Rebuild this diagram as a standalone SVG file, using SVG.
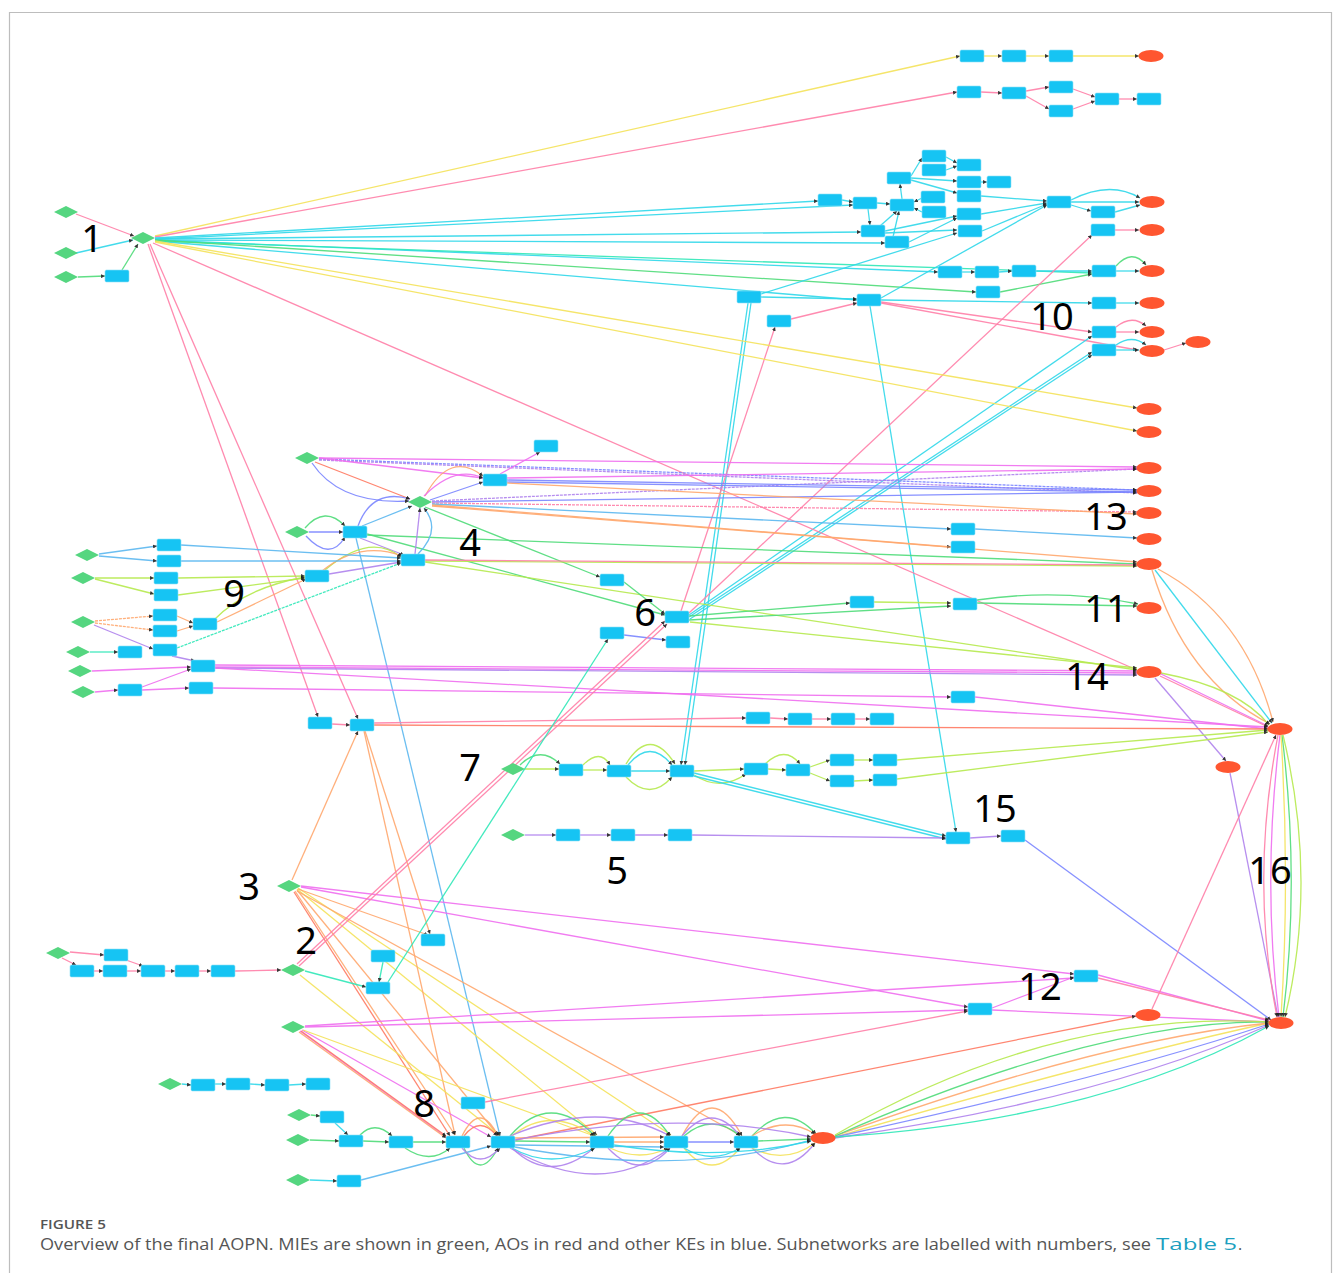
<svg xmlns="http://www.w3.org/2000/svg" width="1335" height="1273" viewBox="0 0 1335 1273">
<style>
.e{fill:none;stroke-width:1.3;marker-end:url(#a);opacity:.9}
.pk{stroke:#ff7fa8}.ye{stroke:#f5e35a}.cy{stroke:#2fd8ea}.gr{stroke:#4fdc79}.lg{stroke:#b6ea4e}
.or{stroke:#ffa86e}.pu{stroke:#b083ee}.bl{stroke:#7b86ff}.mg{stroke:#f06ef0}.lb{stroke:#5cb8f0}
.tl{stroke:#2fe8b8}.rd{stroke:#ff7a62}
.b{fill:#16c4f3;stroke:#8fe0f7;stroke-width:.6}
.r{fill:#ff5630}
.g{fill:#55d680}
.num{font-family:"Noto Sans","Liberation Sans",sans-serif;font-size:38px;fill:#000;text-anchor:middle}
.cap{font-family:"Open Sans","Liberation Sans",sans-serif;fill:#555}
</style>
<defs>
<marker id="a" viewBox="0 0 6 6" refX="6" refY="3" markerWidth="4" markerHeight="4" orient="auto" markerUnits="userSpaceOnUse"><path d="M0,0L6,3L0,6z" fill="#222"/></marker>
<rect id="kb" x="-12" y="-6" width="24" height="12" rx="1.5"/>
<ellipse id="kr" rx="12.5" ry="6"/>
<polygon id="kg" points="-12,0 0,-6 12,0 0,6"/>
</defs>
<rect width="1335" height="1273" fill="#fff"/>
<path d="M9.5 1273V12.5H1331.5V1273" fill="none" stroke="#bdbdbd" stroke-width="1.2"/>

<g id="connectors">
<path class="e ye" d="M155 236L960 56"/>
<path class="e pk" d="M155 237L957 92"/>
<path class="e pk" d="M76 214L134 236"/>
<path class="e cy" d="M76 253L133 240"/>
<path class="e gr" d="M78 277L105 276"/>
<path class="e gr" d="M122 270L138 244"/>
<path class="e ye" d="M984 56L1002 56"/><path class="e ye" d="M1026 56L1049 56"/><path class="e ye" d="M1073 56L1139 56"/>
<path class="e pk" d="M981 92L1002 93"/><path class="e pk" d="M1026 91L1049 87"/><path class="e pk" d="M1026 96L1049 109"/>
<path class="e pk" d="M1073 89L1095 97"/><path class="e pk" d="M1073 109L1095 101"/><path class="e pk" d="M1119 99L1137 99"/>
<path class="e cy" d="M155 238L818 201"/>
<path class="e cy" d="M155 239L853 205"/>
<path class="e cy" d="M155 239L861 232"/>
<path class="e cy" d="M155 240L885 243"/>
<path class="e cy" d="M155 240L938 272"/>
<path class="e cy" d="M155 241L857 300"/>
<path class="e tl" d="M155 241L1092 273"/>
<path class="e gr" d="M155 240L976 292"/>
<path class="e gr" d="M1000 292L1092 274"/>
<path class="e cy" d="M842 200L853 202"/><path class="e cy" d="M877 203L890 204"/><path class="e cy" d="M868 209L870 225"/>
<path class="e cy" d="M880 226L897 211"/><path class="e cy" d="M893 237L899 211"/><path class="e cy" d="M902 199L900 184"/>
<path class="e cy" d="M911 176L922 158"/><path class="e cy" d="M911 178L957 181"/><path class="e cy" d="M911 180L957 193"/>
<path class="e cy" d="M946 157L957 163"/><path class="e cy" d="M946 170L957 166"/><path class="e cy" d="M981 182L987 182"/>
<path class="e cy" d="M922 212L914 208"/><path class="e cy" d="M922 198L914 202"/>
<path class="e cy" d="M885 231L957 216"/><path class="e cy" d="M909 242L957 218"/><path class="e cy" d="M885 233L957 230"/>
<path class="e cy" d="M981 196L1047 201"/><path class="e cy" d="M981 214L1047 203"/><path class="e cy" d="M982 231L1047 204"/>
<path class="e cy" d="M881 298L1047 205"/><path class="e cy" d="M761 294L957 233"/>
<path class="e cy" d="M1071 200Q1110 180 1140 198"/><path class="e cy" d="M1071 202L1139 202"/>
<path class="e cy" d="M1071 205L1091 211"/><path class="e cy" d="M1115 212L1140 205"/>
<path class="e pk" d="M1115 230L1139 230"/>
<path class="e cy" d="M962 272L975 272"/><path class="e cy" d="M999 272L1012 271"/><path class="e cy" d="M1036 271L1092 271"/>
<path class="e cy" d="M1116 271L1139 271"/><path class="e gr" d="M1116 266Q1132 248 1146 265"/>
<path class="e cy" d="M881 300L1092 303"/><path class="e cy" d="M1116 303L1139 303"/>
<path class="e pk" d="M791 319L857 303"/><path class="e cy" d="M761 297L857 299"/>
<path class="e pk" d="M881 302L1092 332"/><path class="e pk" d="M881 303L1137 350"/>
<path class="e pk" d="M1116 332L1139 332"/><path class="e pk" d="M1116 327Q1132 314 1146 326"/>
<path class="e cy" d="M1116 350L1139 350"/><path class="e cy" d="M1116 345Q1132 334 1146 345"/>
<path class="e pk" d="M1164 350L1186 343"/>
<path class="e cy" d="M748 303L681 765"/><path class="e cy" d="M751 303L685 765"/>
<path class="e cy" d="M870 306L956 832"/>
<path class="e pk" d="M689 613L1092 235"/>
<path class="e pk" d="M681 611L775 327"/>
<path class="e cy" d="M689 615L1092 336"/><path class="e cy" d="M689 617L1092 352"/><path class="e cy" d="M690 619L1092 355"/>
<path class="e ye" d="M155 241L1137 408"/><path class="e ye" d="M155 242L1137 431"/>
<path class="e pk" d="M153 243L1137 670"/>
<path class="e pk" d="M148 244L318 717"/><path class="e pk" d="M150 244L358 719"/>
<path class="e mg" d="M319 458L1137 467"/>
<path class="e bl" d="M319 459L1137 490" stroke-dasharray="3 1"/>
<path class="e pu" d="M319 460L1137 493" stroke-dasharray="3 1"/>
<path class="e mg" d="M319 458L483 478"/>
<path class="e rd" d="M315 462L410 499"/>
<path class="e bl" d="M312 463Q340 505 409 501"/>
<path class="e bl" d="M430 500L483 482"/>
<path class="e or" d="M425 496Q450 450 483 476"/>
<path class="e mg" d="M424 496Q455 465 483 478"/>
<path class="e bl" d="M432 502L1137 492"/>
<path class="e pk" d="M432 503L1137 512" stroke-dasharray="3 1"/>
<path class="e pu" d="M432 501L1137 469" stroke-dasharray="3 1"/>
<path class="e lb" d="M432 504L951 529"/>
<path class="e or" d="M432 505L951 547"/>
<path class="e lb" d="M975 529L1137 538"/>
<path class="e or" d="M432 506L1137 562"/>
<path class="e gr" d="M425 507L600 577"/>
<path class="e bl" d="M507 480L1137 490"/><path class="e bl" d="M507 482L1137 492"/><path class="e mg" d="M507 478L1137 469"/>
<path class="e or" d="M507 483L1137 514"/><path class="e mg" d="M500 474L540 452"/>
<path class="e bl" d="M309 532L343 532"/>
<path class="e gr" d="M305 528Q325 505 345 526"/>
<path class="e bl" d="M306 536Q330 562 345 537"/>
<path class="e lb" d="M362 526L412 506"/>
<path class="e bl" d="M358 526Q372 488 410 499"/>
<path class="e gr" d="M367 535L1137 564"/>
<path class="e gr" d="M367 534L665 615"/>
<path class="e pu" d="M360 538L404 555"/>
<path class="e lb" d="M356 538L500 1136"/>
<path class="e pu" d="M415 554L420 508"/>
<path class="e lb" d="M418 554Q442 530 424 508"/>
<path class="e lg" d="M425 561L1137 566"/>
<path class="e lg" d="M425 562L1137 670"/>
<path class="e pk" d="M425 560L1137 565"/>
<path class="e pu" d="M329 574L401 562"/>
<path class="e lg" d="M325 570Q370 532 401 557"/>
<path class="e or" d="M322 571Q360 540 402 556"/>
<path class="e lb" d="M99 554L157 546"/><path class="e lb" d="M99 556L157 561"/>
<path class="e lb" d="M181 545L401 558"/><path class="e lb" d="M181 561L401 561"/>
<path class="e lg" d="M95 578L154 578"/><path class="e lg" d="M95 579L154 594"/>
<path class="e lg" d="M178 578L305 576"/><path class="e lg" d="M178 595L305 578"/>
<path class="e or" d="M95 621L153 616" stroke-dasharray="3 1"/><path class="e or" d="M95 623L153 630" stroke-dasharray="3 1"/>
<path class="e or" d="M177 616L193 623"/><path class="e or" d="M177 631L193 626"/>
<path class="e or" d="M217 622L306 579"/><path class="e lg" d="M215 619Q245 588 305 577"/>
<path class="e pu" d="M94 625L153 649"/>
<path class="e tl" d="M177 648L401 563" stroke-dasharray="3 1"/>
<path class="e pu" d="M172 656L195 661"/>
<path class="e tl" d="M90 652L118 652"/>
<path class="e mg" d="M92 671L191 667"/>
<path class="e mg" d="M95 692L118 690"/><path class="e mg" d="M142 687L191 669"/><path class="e mg" d="M142 690L189 688"/>
<path class="e mg" d="M215 665L1137 671"/><path class="e mg" d="M215 667L1137 673"/><path class="e pu" d="M215 668L1137 675"/>
<path class="e mg" d="M215 668L1268 727"/>
<path class="e mg" d="M213 688L951 697"/><path class="e mg" d="M975 697L1268 729"/>
<path class="e gr" d="M624 582L665 614"/>
<path class="e gr" d="M689 616L850 603"/>
<path class="e lg" d="M874 602L951 603"/>
<path class="e gr" d="M689 620L951 606"/>
<path class="e gr" d="M977 603L1137 606"/><path class="e gr" d="M977 600Q1060 588 1138 604"/>
<path class="e bl" d="M624 635L666 640"/>
<path class="e lg" d="M690 622L1137 668"/>
<path class="e cy" d="M1155 570L1272 723"/>
<path class="e or" d="M1158 569Q1245 615 1273 722"/>
<path class="e or" d="M1152 570Q1185 680 1270 724"/>
<path class="e lg" d="M1161 673Q1240 688 1269 725"/>
<path class="e mg" d="M1161 674L1268 726"/>
<path class="e pk" d="M1160 676L1268 727"/>
<path class="e pu" d="M1155 678L1226 761"/>
<path class="e pu" d="M1230 773L1278 1017"/>
<path class="e pk" d="M1278 735Q1250 880 1277 1017"/>
<path class="e mg" d="M1280 735Q1262 880 1279 1017"/>
<path class="e gr" d="M1282 735Q1300 880 1283 1017"/>
<path class="e lg" d="M1283 735Q1318 880 1285 1017"/>
<path class="e ye" d="M1281 735Q1290 880 1281 1017"/>
<path class="e pk" d="M332 724L350 725"/>
<path class="e rd" d="M374 725L1268 729"/>
<path class="e pk" d="M374 723L746 718"/>
<path class="e pk" d="M770 718L788 719"/><path class="e pk" d="M812 719L831 719"/><path class="e pk" d="M855 719L870 719"/>
<path class="e lg" d="M525 769L559 769"/>
<path class="e gr" d="M520 765Q540 745 560 764"/>
<path class="e lg" d="M583 770L607 770"/>
<path class="e lg" d="M583 765Q600 748 610 765"/>
<path class="e cy" d="M631 771L670 771"/>
<path class="e cy" d="M628 765Q650 738 672 765"/>
<path class="e lg" d="M626 764Q650 725 675 764"/>
<path class="e lg" d="M626 777Q650 802 672 777"/>
<path class="e lg" d="M694 771L744 769"/>
<path class="e lg" d="M694 775Q720 792 746 774"/>
<path class="e lg" d="M768 769L786 770"/>
<path class="e lg" d="M765 764Q785 745 800 764"/>
<path class="e lg" d="M810 767L830 760"/><path class="e lg" d="M810 773L830 781"/>
<path class="e lg" d="M854 760L873 760"/><path class="e lg" d="M854 781L873 780"/>
<path class="e lg" d="M897 760L1268 730"/><path class="e lg" d="M897 779L1268 732"/>
<path class="e cy" d="M694 773L946 836"/><path class="e cy" d="M694 776L946 839"/>
<path class="e pu" d="M525 835L556 835"/><path class="e pu" d="M580 835L611 835"/><path class="e pu" d="M635 835L668 835"/>
<path class="e pu" d="M692 835L946 838"/><path class="e pu" d="M970 838L1001 836"/>
<path class="e bl" d="M1025 840L1271 1020"/>
<path class="e or" d="M292 880L358 731"/>
<path class="e or" d="M295 891L455 1135"/>
<path class="e or" d="M297 890L498 1135"/>
<path class="e rd" d="M294 892L450 1136"/>
<path class="e ye" d="M297 889L597 1135"/>
<path class="e ye" d="M298 888L671 1135"/>
<path class="e mg" d="M301 886L1074 974"/>
<path class="e mg" d="M301 887L968 1007"/>
<path class="e or" d="M298 889L428 935"/>
<path class="e or" d="M297 891L740 1135"/>
<path class="e or" d="M364 731L455 1135"/>
<path class="e or" d="M365 731L430 934"/>
<path class="e pk" d="M70 952L104 955"/><path class="e pk" d="M62 958L76 965"/>
<path class="e pk" d="M94 971L103 971"/><path class="e pk" d="M127 971L141 971"/><path class="e pk" d="M126 960L143 966"/>
<path class="e pk" d="M165 971L175 971"/><path class="e pk" d="M199 971L211 971"/><path class="e pk" d="M235 971L281 970"/>
<path class="e pk" d="M297 964L665 621"/><path class="e pk" d="M299 966L667 624"/>
<path class="e tl" d="M305 971L366 987"/>
<path class="e ye" d="M300 975L500 1136"/>
<path class="e tl" d="M383 962L379 982"/>
<path class="e tl" d="M388 982L608 639"/>
<path class="e mg" d="M305 1027L968 1010"/>
<path class="e mg" d="M305 1026L1074 978"/>
<path class="e mg" d="M300 1031L446 1137"/>
<path class="e rd" d="M301 1031L446 1136"/>
<path class="e mg" d="M302 1030L491 1137"/>
<path class="e ye" d="M303 1030L597 1137"/>
<path class="e or" d="M299 1032L446 1138"/>
<path class="e mg" d="M992 1008L1074 977"/>
<path class="e mg" d="M992 1010L1269 1022"/>
<path class="e mg" d="M1098 975L1269 1021"/>
<path class="e pk" d="M1098 978L1269 1020"/>
<path class="e pk" d="M485 1102L968 1011"/>
<path class="e rd" d="M515 1140L1136 1016"/>
<path class="e pk" d="M1152 1009L1276 735"/>
<path class="e ye" d="M835 1137Q1100 1060 1269 1023"/>
<path class="e or" d="M835 1136Q1100 1040 1269 1023"/>
<path class="e bl" d="M835 1137Q1100 1080 1269 1024"/>
<path class="e pu" d="M835 1138Q1100 1100 1269 1025"/>
<path class="e gr" d="M835 1136Q1100 1020 1269 1022"/>
<path class="e tl" d="M835 1137Q1100 1120 1269 1026"/>
<path class="e lg" d="M835 1135Q1050 1010 1269 1022"/>
<path class="e cy" d="M182 1084L191 1085"/><path class="e cy" d="M215 1084L226 1084"/>
<path class="e cy" d="M250 1084L265 1085"/><path class="e cy" d="M289 1085L306 1084"/>
<path class="e gr" d="M311 1115L320 1116"/><path class="e cy" d="M335 1123L348 1135"/>
<path class="e gr" d="M310 1140L339 1141"/><path class="e gr" d="M363 1141L389 1142"/>
<path class="e gr" d="M360 1135Q375 1120 392 1136"/>
<path class="e gr" d="M413 1142L446 1142"/>
<path class="e gr" d="M405 1148Q430 1165 450 1148"/>
<path class="e cy" d="M310 1180L337 1181"/>
<path class="e lb" d="M361 1180L491 1146"/>
<path class="e or" d="M462 1136Q480 1100 498 1136"/>
<path class="e rd" d="M464 1136Q480 1115 497 1136"/>
<path class="e gr" d="M464 1148Q480 1182 498 1148"/>
<path class="e pu" d="M462 1148Q480 1170 500 1148"/>
<path class="e gr" d="M515 1141L590 1142"/>
<path class="e gr" d="M510 1136Q550 1090 595 1136"/>
<path class="e ye" d="M512 1136Q550 1105 594 1136"/>
<path class="e pu" d="M512 1148Q550 1185 594 1148"/>
<path class="e cy" d="M512 1148Q550 1170 595 1148"/>
<path class="e or" d="M515 1138L664 1137"/>
<path class="e lb" d="M515 1145L664 1147"/>
<path class="e pu" d="M510 1136Q600 1098 670 1136"/>
<path class="e pu" d="M510 1148Q600 1200 670 1148"/>
<path class="e or" d="M614 1142L664 1142"/>
<path class="e gr" d="M608 1136Q640 1090 670 1136"/>
<path class="e pu" d="M608 1148Q640 1182 670 1148"/>
<path class="e ye" d="M610 1148Q640 1162 668 1148"/>
<path class="e bl" d="M688 1142L734 1142"/>
<path class="e or" d="M682 1136Q712 1080 742 1136"/>
<path class="e pu" d="M682 1136Q712 1100 740 1136"/>
<path class="e gr" d="M684 1136Q712 1112 740 1136"/>
<path class="e ye" d="M684 1148Q712 1182 740 1148"/>
<path class="e cy" d="M684 1148Q712 1165 740 1148"/>
<path class="e gr" d="M758 1141L811 1139"/>
<path class="e gr" d="M752 1136Q785 1100 816 1134"/>
<path class="e or" d="M752 1136Q785 1115 815 1134"/>
<path class="e pu" d="M752 1148Q785 1182 815 1143"/>
<path class="e ye" d="M752 1148Q785 1165 815 1143"/>
<path class="e pu" d="M515 1140Q680 1108 811 1137"/>
<path class="e lb" d="M515 1147Q680 1178 811 1140"/>
<path class="e cy" d="M614 1145Q720 1162 811 1141"/>
</g>

<g id="nodes">
<g id="g1" class="g"><use href="#kg" x="66" y="212"/></g>
<g id="g2" class="g"><use href="#kg" x="66" y="253"/></g>
<g id="g3" class="g"><use href="#kg" x="66" y="277"/></g>
<g id="g4" class="g"><use href="#kg" x="143" y="238"/></g>
<g id="g5" class="g"><use href="#kg" x="307" y="458"/></g>
<g id="g6" class="g"><use href="#kg" x="420" y="502"/></g>
<g id="g7" class="g"><use href="#kg" x="297" y="532"/></g>
<g id="g8" class="g"><use href="#kg" x="87" y="555"/></g>
<g id="g9" class="g"><use href="#kg" x="83" y="578"/></g>
<g id="g10" class="g"><use href="#kg" x="83" y="622"/></g>
<g id="g11" class="g"><use href="#kg" x="78" y="652"/></g>
<g id="g12" class="g"><use href="#kg" x="80" y="671"/></g>
<g id="g13" class="g"><use href="#kg" x="83" y="692"/></g>
<g id="g14" class="g"><use href="#kg" x="513" y="769"/></g>
<g id="g15" class="g"><use href="#kg" x="513" y="835"/></g>
<g id="g16" class="g"><use href="#kg" x="289" y="886"/></g>
<g id="g17" class="g"><use href="#kg" x="58" y="953"/></g>
<g id="g18" class="g"><use href="#kg" x="293" y="970"/></g>
<g id="g19" class="g"><use href="#kg" x="293" y="1027"/></g>
<g id="g20" class="g"><use href="#kg" x="170" y="1084"/></g>
<g id="g21" class="g"><use href="#kg" x="299" y="1115"/></g>
<g id="g22" class="g"><use href="#kg" x="298" y="1140"/></g>
<g id="g23" class="g"><use href="#kg" x="298" y="1180"/></g>

<g id="b1" class="b"><use href="#kb" x="117" y="276"/></g>
<g id="b2" class="b"><use href="#kb" x="972" y="56"/></g>
<g id="b3" class="b"><use href="#kb" x="1014" y="56"/></g>
<g id="b4" class="b"><use href="#kb" x="1061" y="56"/></g>
<g id="b5" class="b"><use href="#kb" x="969" y="92"/></g>
<g id="b6" class="b"><use href="#kb" x="1014" y="93"/></g>
<g id="b7" class="b"><use href="#kb" x="1061" y="87"/></g>
<g id="b8" class="b"><use href="#kb" x="1061" y="111"/></g>
<g id="b9" class="b"><use href="#kb" x="1107" y="99"/></g>
<g id="b10" class="b"><use href="#kb" x="1149" y="99"/></g>
<g id="b11" class="b"><use href="#kb" x="830" y="200"/></g>
<g id="b12" class="b"><use href="#kb" x="865" y="203"/></g>
<g id="b13" class="b"><use href="#kb" x="902" y="205"/></g>
<g id="b14" class="b"><use href="#kb" x="899" y="178"/></g>
<g id="b15" class="b"><use href="#kb" x="934" y="156"/></g>
<g id="b16" class="b"><use href="#kb" x="934" y="170"/></g>
<g id="b17" class="b"><use href="#kb" x="969" y="165"/></g>
<g id="b18" class="b"><use href="#kb" x="969" y="182"/></g>
<g id="b19" class="b"><use href="#kb" x="999" y="182"/></g>
<g id="b20" class="b"><use href="#kb" x="933" y="197"/></g>
<g id="b21" class="b"><use href="#kb" x="934" y="212"/></g>
<g id="b22" class="b"><use href="#kb" x="969" y="196"/></g>
<g id="b23" class="b"><use href="#kb" x="969" y="214"/></g>
<g id="b24" class="b"><use href="#kb" x="873" y="231"/></g>
<g id="b25" class="b"><use href="#kb" x="897" y="242"/></g>
<g id="b26" class="b"><use href="#kb" x="970" y="231"/></g>
<g id="b27" class="b"><use href="#kb" x="1059" y="202"/></g>
<g id="b28" class="b"><use href="#kb" x="1103" y="212"/></g>
<g id="b29" class="b"><use href="#kb" x="1103" y="230"/></g>
<g id="b30" class="b"><use href="#kb" x="950" y="272"/></g>
<g id="b31" class="b"><use href="#kb" x="987" y="272"/></g>
<g id="b32" class="b"><use href="#kb" x="1024" y="271"/></g>
<g id="b33" class="b"><use href="#kb" x="1104" y="271"/></g>
<g id="b34" class="b"><use href="#kb" x="988" y="292"/></g>
<g id="b35" class="b"><use href="#kb" x="869" y="300"/></g>
<g id="b36" class="b"><use href="#kb" x="779" y="321"/></g>
<g id="b37" class="b"><use href="#kb" x="749" y="297"/></g>
<g id="b38" class="b"><use href="#kb" x="1104" y="303"/></g>
<g id="b39" class="b"><use href="#kb" x="1104" y="332"/></g>
<g id="b40" class="b"><use href="#kb" x="1104" y="350"/></g>
<g id="b41" class="b"><use href="#kb" x="495" y="480"/></g>
<g id="b42" class="b"><use href="#kb" x="546" y="446"/></g>
<g id="b43" class="b"><use href="#kb" x="355" y="532"/></g>
<g id="b44" class="b"><use href="#kb" x="413" y="560"/></g>
<g id="b45" class="b"><use href="#kb" x="317" y="576"/></g>
<g id="b46" class="b"><use href="#kb" x="963" y="529"/></g>
<g id="b47" class="b"><use href="#kb" x="963" y="547"/></g>
<g id="b48" class="b"><use href="#kb" x="169" y="545"/></g>
<g id="b49" class="b"><use href="#kb" x="169" y="561"/></g>
<g id="b50" class="b"><use href="#kb" x="166" y="578"/></g>
<g id="b51" class="b"><use href="#kb" x="166" y="595"/></g>
<g id="b52" class="b"><use href="#kb" x="165" y="615"/></g>
<g id="b53" class="b"><use href="#kb" x="165" y="631"/></g>
<g id="b54" class="b"><use href="#kb" x="205" y="624"/></g>
<g id="b55" class="b"><use href="#kb" x="130" y="652"/></g>
<g id="b56" class="b"><use href="#kb" x="165" y="650"/></g>
<g id="b57" class="b"><use href="#kb" x="203" y="666"/></g>
<g id="b58" class="b"><use href="#kb" x="130" y="690"/></g>
<g id="b59" class="b"><use href="#kb" x="201" y="688"/></g>
<g id="b60" class="b"><use href="#kb" x="612" y="580"/></g>
<g id="b61" class="b"><use href="#kb" x="677" y="617"/></g>
<g id="b62" class="b"><use href="#kb" x="612" y="633"/></g>
<g id="b63" class="b"><use href="#kb" x="678" y="642"/></g>
<g id="b64" class="b"><use href="#kb" x="862" y="602"/></g>
<g id="b65" class="b"><use href="#kb" x="965" y="604"/></g>
<g id="b66" class="b"><use href="#kb" x="963" y="697"/></g>
<g id="b67" class="b"><use href="#kb" x="320" y="723"/></g>
<g id="b68" class="b"><use href="#kb" x="362" y="725"/></g>
<g id="b69" class="b"><use href="#kb" x="758" y="718"/></g>
<g id="b70" class="b"><use href="#kb" x="800" y="719"/></g>
<g id="b71" class="b"><use href="#kb" x="843" y="719"/></g>
<g id="b72" class="b"><use href="#kb" x="882" y="719"/></g>
<g id="b73" class="b"><use href="#kb" x="571" y="770"/></g>
<g id="b74" class="b"><use href="#kb" x="619" y="771"/></g>
<g id="b75" class="b"><use href="#kb" x="682" y="771"/></g>
<g id="b76" class="b"><use href="#kb" x="756" y="769"/></g>
<g id="b77" class="b"><use href="#kb" x="798" y="770"/></g>
<g id="b78" class="b"><use href="#kb" x="842" y="760"/></g>
<g id="b79" class="b"><use href="#kb" x="885" y="760"/></g>
<g id="b80" class="b"><use href="#kb" x="842" y="781"/></g>
<g id="b81" class="b"><use href="#kb" x="885" y="780"/></g>
<g id="b82" class="b"><use href="#kb" x="568" y="835"/></g>
<g id="b83" class="b"><use href="#kb" x="623" y="835"/></g>
<g id="b84" class="b"><use href="#kb" x="680" y="835"/></g>
<g id="b85" class="b"><use href="#kb" x="958" y="838"/></g>
<g id="b86" class="b"><use href="#kb" x="1013" y="836"/></g>
<g id="b87" class="b"><use href="#kb" x="433" y="940"/></g>
<g id="b88" class="b"><use href="#kb" x="383" y="956"/></g>
<g id="b89" class="b"><use href="#kb" x="378" y="988"/></g>
<g id="b90" class="b"><use href="#kb" x="116" y="955"/></g>
<g id="b91" class="b"><use href="#kb" x="82" y="971"/></g>
<g id="b92" class="b"><use href="#kb" x="115" y="971"/></g>
<g id="b93" class="b"><use href="#kb" x="153" y="971"/></g>
<g id="b94" class="b"><use href="#kb" x="187" y="971"/></g>
<g id="b95" class="b"><use href="#kb" x="223" y="971"/></g>
<g id="b96" class="b"><use href="#kb" x="1086" y="976"/></g>
<g id="b97" class="b"><use href="#kb" x="980" y="1009"/></g>
<g id="b98" class="b"><use href="#kb" x="203" y="1085"/></g>
<g id="b99" class="b"><use href="#kb" x="238" y="1084"/></g>
<g id="b100" class="b"><use href="#kb" x="277" y="1085"/></g>
<g id="b101" class="b"><use href="#kb" x="318" y="1084"/></g>
<g id="b102" class="b"><use href="#kb" x="473" y="1103"/></g>
<g id="b103" class="b"><use href="#kb" x="332" y="1117"/></g>
<g id="b104" class="b"><use href="#kb" x="351" y="1141"/></g>
<g id="b105" class="b"><use href="#kb" x="401" y="1142"/></g>
<g id="b106" class="b"><use href="#kb" x="458" y="1142"/></g>
<g id="b107" class="b"><use href="#kb" x="503" y="1142"/></g>
<g id="b108" class="b"><use href="#kb" x="602" y="1142"/></g>
<g id="b109" class="b"><use href="#kb" x="676" y="1142"/></g>
<g id="b110" class="b"><use href="#kb" x="746" y="1142"/></g>
<g id="b111" class="b"><use href="#kb" x="349" y="1181"/></g>

<g id="r1" class="r"><use href="#kr" x="1151" y="56"/></g>
<g id="r2" class="r"><use href="#kr" x="1152" y="202"/></g>
<g id="r3" class="r"><use href="#kr" x="1152" y="230"/></g>
<g id="r4" class="r"><use href="#kr" x="1152" y="271"/></g>
<g id="r5" class="r"><use href="#kr" x="1152" y="303"/></g>
<g id="r6" class="r"><use href="#kr" x="1152" y="332"/></g>
<g id="r7" class="r"><use href="#kr" x="1152" y="351"/></g>
<g id="r8" class="r"><use href="#kr" x="1198" y="342"/></g>
<g id="r9" class="r"><use href="#kr" x="1149" y="409"/></g>
<g id="r10" class="r"><use href="#kr" x="1149" y="432"/></g>
<g id="r11" class="r"><use href="#kr" x="1149" y="468"/></g>
<g id="r12" class="r"><use href="#kr" x="1149" y="491"/></g>
<g id="r13" class="r"><use href="#kr" x="1149" y="513"/></g>
<g id="r14" class="r"><use href="#kr" x="1149" y="539"/></g>
<g id="r15" class="r"><use href="#kr" x="1149" y="564"/></g>
<g id="r16" class="r"><use href="#kr" x="1149" y="608"/></g>
<g id="r17" class="r"><use href="#kr" x="1149" y="672"/></g>
<g id="r18" class="r"><use href="#kr" x="1280" y="729"/></g>
<g id="r19" class="r"><use href="#kr" x="1228" y="767"/></g>
<g id="r20" class="r"><use href="#kr" x="1148" y="1015"/></g>
<g id="r21" class="r"><use href="#kr" x="1281" y="1023"/></g>
<g id="r22" class="r"><use href="#kr" x="823" y="1138"/></g>
</g>

<g id="labels">
<text class="num" x="92" y="252">1</text>
<text class="num" x="1052" y="330">10</text>
<text class="num" x="1106" y="530">13</text>
<text class="num" x="470" y="556">4</text>
<text class="num" x="234" y="607">9</text>
<text class="num" x="645" y="626">6</text>
<text class="num" x="1106" y="622">11</text>
<text class="num" x="1087" y="690">14</text>
<text class="num" x="470" y="781">7</text>
<text class="num" x="995" y="822">15</text>
<text class="num" x="617" y="884">5</text>
<text class="num" x="1270" y="884">16</text>
<text class="num" x="249" y="900">3</text>
<text class="num" x="306" y="954">2</text>
<text class="num" x="1040" y="1000">12</text>
<text class="num" x="424" y="1117">8</text>
</g>

<g id="caption">
<text class="cap" x="40" y="1229" font-size="12.5" font-weight="600" textLength="66" lengthAdjust="spacingAndGlyphs">FIGURE 5</text>
<text class="cap" x="40" y="1250" font-size="16" textLength="1111" lengthAdjust="spacingAndGlyphs">Overview of the final AOPN. MIEs are shown in green, AOs in red and other KEs in blue. Subnetworks are labelled with numbers, see</text>
<text class="cap" x="1156" y="1250" font-size="16" style="fill:#1b9fc0" textLength="81" lengthAdjust="spacingAndGlyphs">Table 5</text>
<text class="cap" x="1238" y="1250" font-size="16">.</text>
</g>
</svg>
